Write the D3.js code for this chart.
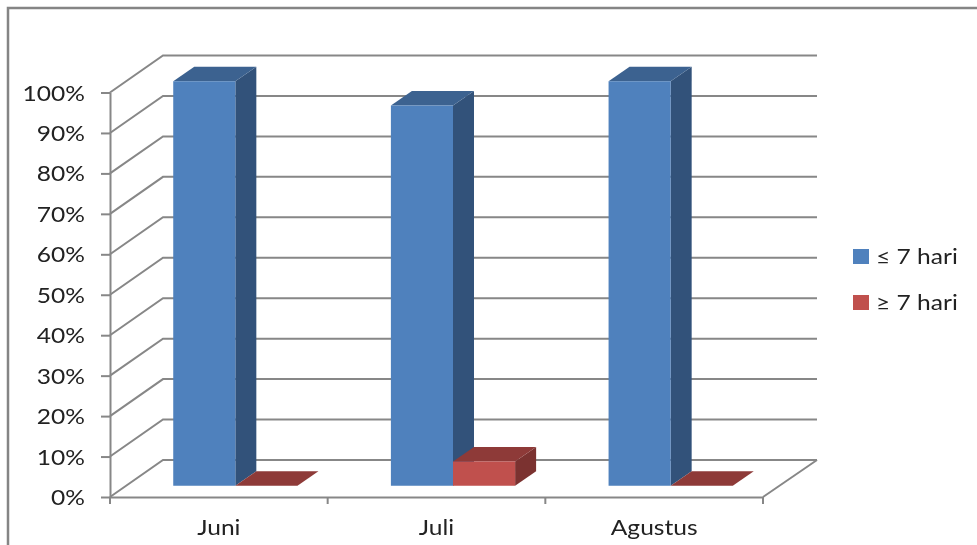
<!DOCTYPE html>
<html>
<head>
<meta charset="utf-8">
<style>
    html, body { margin: 0; padding: 0; background: #fff; overflow: hidden; }
    svg { display: block; filter: blur(0.45px); }
    text { font-family: Lato, "Open Sans", sans-serif; fill: #222; }
    .axis text { font-size: 21px; }
    .legend text { font-size: 21px; }
    .grid { stroke: #878787; stroke-width: 2; fill: none; }
</style>
</head>
<body>
<script src="https://d3js.org/d3.v7.min.js"></script>
<script>
    var months = ["Juni", "Juli", "Agustus"];
    var seriesNames = ["≤ 7 hari", "≥ 7 hari"];
    var shortStay = [100, 94, 100];
    var longStay = [0, 6, 0];
    var percentTicks = [0, 10, 20, 30, 40, 50, 60, 70, 80, 90, 100];

    var frontColors = ["#4f81bd", "#c0504d"],
        topColors = ["#3c6290", "#8e3a38"],
        sideColors = ["#32527a", "#7b3230"];

    var width = 977, height = 545;
    // oblique offset of the back wall, and of one bar's depth
    var wallDx = 54, wallDy = -37,
        barDx = 21, barDy = -14.5;
    var barShiftX = (wallDx - barDx) / 2,
        barShiftY = (wallDy - barDy) / 2;
    // the reference text is wider than any installed font
    var textStretch = 1.17;

    var svg = d3.select("body").append("svg")
        .attr("width", width)
        .attr("height", height);

    // outer chart frame, open at right and bottom
    svg.append("path")
        .attr("d", d3.line()([[8, 545], [8, 8], [977, 8]]))
        .attr("fill", "none")
        .attr("stroke", "#858585")
        .attr("stroke-width", 2.5);

    var x = d3.scaleBand().domain(months).range([110, 763]);
    var y = d3.scaleLinear().domain([0, 100]).range([497, 92.5]);

    var x0 = d3.scaleBand()
        .domain(months)
        .range([110 + barShiftX, 763 + barShiftX])
        .paddingInner(0.4294)
        .paddingOuter(0.2147);
    var x1 = d3.scaleBand()
        .domain(d3.range(seriesNames.length))
        .range([0, x0.bandwidth()]);

    var right = x.range()[1];

    function stretch(sel) {
        sel.attr("transform", function() {
            var tx = +this.getAttribute("x") || 0;
            return "translate(" + tx + ",0) scale(" + textStretch + ",1) translate(" + (-tx) + ",0)";
        });
    }

    // gridlines on the back wall and left wall
    var grid = svg.append("g").attr("class", "grid");
    percentTicks.forEach(function(t) {
        grid.append("path").attr("d", d3.line()([
            [x.range()[0], y(t)],
            [x.range()[0] + wallDx - 1, y(t) + wallDy],
            [right + wallDx, y(t) + wallDy]
        ]));
    });
    // floor edge on the right
    grid.append("path").attr("d", d3.line()([
        [right, y(0)],
        [right + wallDx, y(0) + wallDy]
    ]));

    // value axis
    var yAxis = svg.append("g")
        .attr("class", "axis")
        .attr("transform", "translate(" + x.range()[0] + ",0)")
        .call(d3.axisLeft(y)
            .tickValues(percentTicks)
            .tickFormat(function(d) { return d + "%"; })
            .tickSize(9)
            .tickSizeOuter(0)
            .tickPadding(16));
    yAxis.selectAll("line, path").attr("stroke", "#878787").attr("stroke-width", 2);
    yAxis.selectAll("text").attr("dy", "0.36em").attr("fill", "#222").call(stretch);

    // category axis: labels from the band scale, ticks on the band edges
    var xAxis = svg.append("g")
        .attr("class", "axis")
        .attr("transform", "translate(0," + y(0) + ")")
        .call(d3.axisBottom(x).tickSize(0).tickPadding(23));
    xAxis.select(".domain").attr("stroke", "#878787").attr("stroke-width", 2);
    xAxis.selectAll("text").attr("fill", "#222").call(stretch);
    xAxis.selectAll(".edge")
        .data(months.map(function(m) { return x(m); }).concat([right]))
        .enter().append("line")
        .attr("class", "edge")
        .attr("x1", function(d) { return d; })
        .attr("x2", function(d) { return d; })
        .attr("y1", 0)
        .attr("y2", 7)
        .attr("stroke", "#878787")
        .attr("stroke-width", 2);

    // bars, drawn month by month, back to front in each group
    var bars = [];
    [shortStay, longStay].forEach(function(values, s) {
        values.forEach(function(v, i) {
            bars.push({month: months[i], value: v, series: s});
        });
    });

    var bar = svg.append("g").selectAll("g")
        .data(bars)
        .enter().append("g");

    function poly(points) { return d3.line()(points) + "Z"; }

    // side face
    bar.filter(function(d) { return d.value > 0; }).append("path")
        .attr("fill", function(d) { return sideColors[d.series]; })
        .attr("d", function(d) {
            var r = x0(d.month) + x1(d.series) + x1.bandwidth(),
                t = y(d.value) + barShiftY,
                b = y(0) + barShiftY;
            return poly([[r, t], [r + barDx, t + barDy], [r + barDx, b + barDy], [r, b]]);
        });
    // top face
    bar.append("path")
        .attr("fill", function(d) { return topColors[d.series]; })
        .attr("d", function(d) {
            var l = x0(d.month) + x1(d.series),
                r = l + x1.bandwidth(),
                t = y(d.value) + barShiftY;
            return poly([[l, t], [l + barDx, t + barDy], [r + barDx, t + barDy], [r, t]]);
        });
    // front face
    bar.filter(function(d) { return d.value > 0; }).append("rect")
        .attr("fill", function(d) { return frontColors[d.series]; })
        .attr("x", function(d) { return x0(d.month) + x1(d.series); })
        .attr("y", function(d) { return y(d.value) + barShiftY; })
        .attr("width", x1.bandwidth())
        .attr("height", function(d) { return y(0) - y(d.value); });

    // legend
    var legend = svg.append("g").attr("class", "legend");
    seriesNames.forEach(function(name, i) {
        var row = legend.append("g")
            .attr("transform", "translate(853," + (249 + i * 46) + ")");
        row.append("rect")
            .attr("width", 16)
            .attr("height", 15)
            .attr("fill", frontColors[i]);
        row.append("text")
            .attr("x", 23)
            .attr("y", 15)
            .call(stretch)
            .text(name);
    });
</script>
</body>
</html>
